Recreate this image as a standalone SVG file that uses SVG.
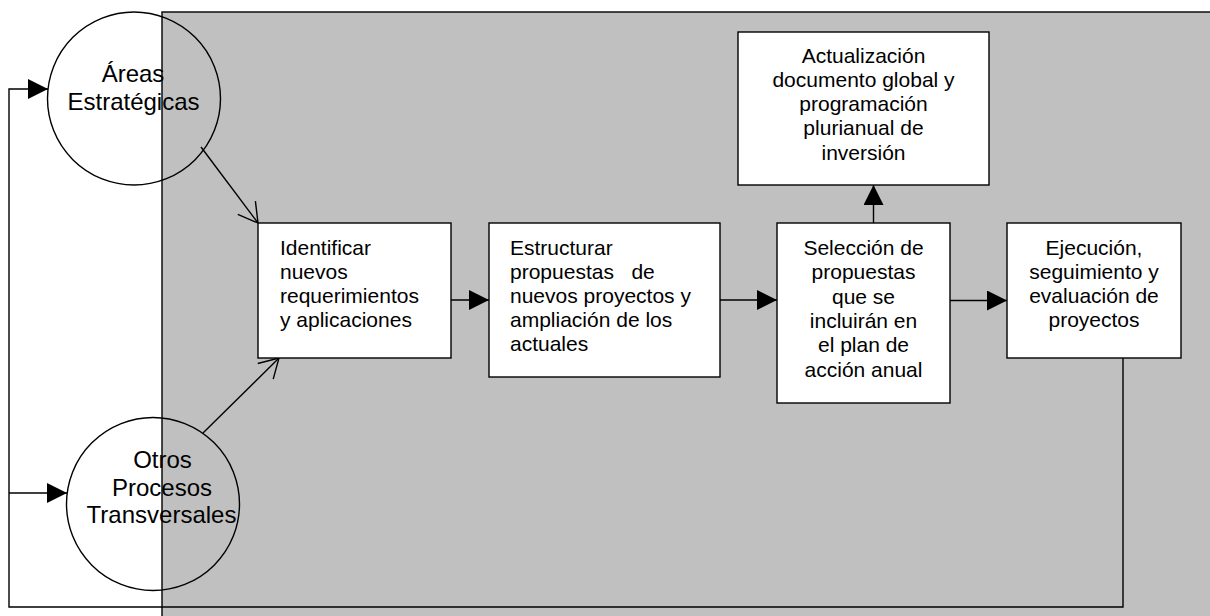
<svg xmlns="http://www.w3.org/2000/svg" width="1210" height="616" viewBox="0 0 1210 616">
<style>
.ln{fill:none;stroke:#000;stroke-width:1.4}
.box{fill:#fff;stroke:#000;stroke-width:1.4}
.t{font-family:"Liberation Sans",Arial,sans-serif;font-size:21px;fill:#000}
.c{font-family:"Liberation Sans",Arial,sans-serif;font-size:24px;fill:#000;text-anchor:middle}
.m{text-anchor:middle}
</style>
<defs>
<marker id="fa" viewBox="0 0 20 20" refX="20" refY="10" markerWidth="20" markerHeight="20" markerUnits="userSpaceOnUse" orient="auto">
<path d="M0,0 L20,10 L0,20 z" fill="#000"/>
</marker>
<marker id="oa" viewBox="0 0 22 24" refX="20" refY="12" markerWidth="22" markerHeight="24" markerUnits="userSpaceOnUse" orient="auto">
<path d="M1,1 L20,12 L1,23" fill="none" stroke="#000" stroke-width="1.4"/>
</marker>
</defs>
<rect width="1210" height="616" fill="#fff"/>
<g id="background">
<rect x="162" y="12" width="1070" height="620" fill="#c0c0c0" stroke="#000" stroke-width="1.4"/>
</g>
<g id="connectors">
<polyline class="ln" points="1123,358 1123,607 9,607 9,89 48,89" marker-end="url(#fa)"/>
<line class="ln" x1="9" y1="493" x2="67" y2="493" marker-end="url(#fa)"/>
<line class="ln" x1="201" y1="147" x2="258" y2="223" marker-end="url(#oa)"/>
<line class="ln" x1="203" y1="433" x2="279" y2="358" marker-end="url(#oa)"/>
<line class="ln" x1="451" y1="300" x2="489" y2="300" marker-end="url(#fa)"/>
<line class="ln" x1="720" y1="300" x2="777" y2="300" marker-end="url(#fa)"/>
<line class="ln" x1="950" y1="300.5" x2="1007" y2="300.5" marker-end="url(#fa)"/>
<line class="ln" x1="873.5" y1="223" x2="873.5" y2="185" marker-end="url(#fa)"/>
</g>
<g id="areas">
<circle class="ln" cx="134" cy="98.5" r="86.5"/>
<text class="c" x="133" y="82">Áreas</text>
<text class="c" x="133.5" y="109.5">Estratégicas</text>
</g>
<g id="otros">
<circle class="ln" cx="153" cy="504" r="86.5"/>
<text class="c" x="162.5" y="468">Otros</text>
<text class="c" x="162" y="495.5">Procesos</text>
<text class="c" x="161.5" y="523">Transversales</text>
</g>
<g id="identificar">
<rect class="box" x="258" y="223" width="193" height="135"/>
<text class="t" x="280" y="255">Identificar</text>
<text class="t" x="280" y="279">nuevos</text>
<text class="t" x="280" y="303">requerimientos</text>
<text class="t" x="280" y="327">y aplicaciones</text>
</g>
<g id="estructurar">
<rect class="box" x="489" y="223" width="231" height="154"/>
<text class="t" x="510" y="255">Estructurar</text>
<text class="t" x="510" y="279" xml:space="preserve">propuestas   de</text>
<text class="t" x="510" y="303">nuevos proyectos y</text>
<text class="t" x="510" y="327">ampliación de los</text>
<text class="t" x="510" y="351">actuales</text>
</g>
<g id="actualizacion">
<rect class="box" x="738" y="32" width="251" height="153"/>
<text class="t m" x="863.5" y="62.5">Actualización</text>
<text class="t m" x="863.5" y="86.8">documento global y</text>
<text class="t m" x="863.5" y="111.1">programación</text>
<text class="t m" x="863.5" y="135.4">plurianual de</text>
<text class="t m" x="863.5" y="159.7">inversión</text>
</g>
<g id="seleccion">
<rect class="box" x="777" y="223" width="173" height="180"/>
<text class="t m" x="863.5" y="255">Selección de</text>
<text class="t m" x="863.5" y="279.3">propuestas</text>
<text class="t m" x="863.5" y="303.6">que se</text>
<text class="t m" x="863.5" y="327.9">incluirán en</text>
<text class="t m" x="863.5" y="352.2">el plan de</text>
<text class="t m" x="863.5" y="376.5">acción anual</text>
</g>
<g id="ejecucion">
<rect class="box" x="1007" y="223" width="174" height="135"/>
<text class="t m" x="1094" y="255">Ejecución,</text>
<text class="t m" x="1094" y="279">seguimiento y</text>
<text class="t m" x="1094" y="303">evaluación de</text>
<text class="t m" x="1094" y="327">proyectos</text>
</g>
</svg>
